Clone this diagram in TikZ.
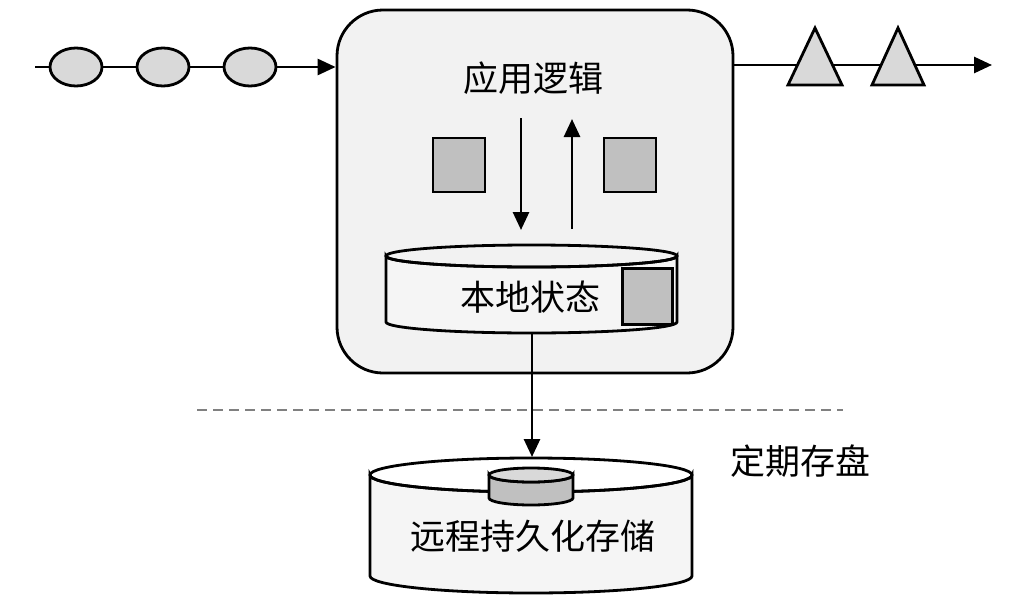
\documentclass[tikz,border=0pt]{standalone}
\usepackage{fontspec}
\newfontfamily\cjk{Noto Sans CJK SC}
\usetikzlibrary{arrows.meta,shapes.geometric}
\definecolor{boxfill}{HTML}{F2F2F2}
\definecolor{cylfill}{HTML}{F5F5F5}
\definecolor{tokfill}{HTML}{D9D9D9}
\definecolor{sqfill}{HTML}{C0C0C0}
\definecolor{dashc}{HTML}{808080}
\tikzset{
  thick line/.style={line width=2.8pt},
  arr/.style={thick line,-{Triangle[length=18pt,width=16pt]}},
  token/.style={draw,thick line,fill=tokfill,ellipse,minimum width=52pt,minimum height=38pt,inner sep=0pt},
  sq/.style={draw,thick line,fill=sqfill,minimum width=52pt,minimum height=54pt,inner sep=0pt},
  lbl/.style={font=\cjk\fontsize{35}{40}\selectfont,inner sep=0pt},
}
\begin{document}
\begin{tikzpicture}[x=1pt,y=-1pt]
\useasboundingbox (0,0) rectangle (1025,613);
% main box
\node[draw,thick line,fill=boxfill,rounded corners=46pt,minimum width=396pt,minimum height=363pt] (box) at (535,191.5) {};
\node[lbl] (app) at (533,78) {应用逻辑};
% input stream
\coordinate (in0) at (35,67);
\node[token] (e1) at (76,67) {};
\node[token] (e2) at (163,67) {};
\node[token] (e3) at (250,67) {};
\draw[thick line] (in0) -- (e1.west);
\draw[thick line] (e1.east) -- (e2.west);
\draw[thick line] (e2.east) -- (e3.west);
\draw[arr] (e3.east) -- (e3.east -| box.west);
% output stream
\coordinate (outS) at (733,65);
\coordinate (outE) at (992,65);
\draw[arr] (outS) -- (outE);
\coordinate (t1) at (815,28);
\coordinate (t2) at (898,28);
\draw[thick line,fill=tokfill,line join=miter] (t1) -- ++(-27,57) -- ++(54,0) -- cycle;
\draw[thick line,fill=tokfill,line join=miter] (t2) -- ++(-26,57) -- ++(52,0) -- cycle;
% squares and arrows
\node[sq] (sqL) at (459,165) {};
\node[sq] (sqR) at (630,165) {};
\coordinate (dA) at (521,118);
\coordinate (dB) at (521,230);
\coordinate (uA) at (572,229);
\coordinate (uB) at (572,119);
\draw[arr] (dA) -- (dB);
\draw[arr] (uA) -- (uB);
% local state cylinder
\filldraw[thick line,fill=cylfill] (386,256) -- (386,322) arc[start angle=180,end angle=0,x radius=145.5,y radius=11] -- (677,256) arc[start angle=0,end angle=180,x radius=145.5,y radius=11] -- cycle;
\draw[thick line] (531.5,256) ellipse[x radius=145.5,y radius=11];
\node[lbl] (local) at (530,297) {本地状态};
\node[draw,thick line,fill=sqfill,minimum width=50pt,minimum height=56pt,inner sep=0pt] (lsq) at (647.5,296.5) {};
\coordinate (lbot) at (532,333);
% dashed line
\coordinate (dl) at (197,410);
\coordinate (dr) at (843,410);
\draw[dashc,line width=1.5pt,dash pattern=on 10pt off 6pt] (dl) -- (dr);
\node[lbl] (period) at (800,461) {定期存盘};
% remote storage cylinder
\filldraw[thick line,fill=cylfill] (370,475) -- (370,576) arc[start angle=180,end angle=0,x radius=161,y radius=17] -- (692,475) arc[start angle=0,end angle=180,x radius=161,y radius=17] -- cycle;
\draw[thick line] (531,475) ellipse[x radius=161,y radius=17];
% small cylinder
\filldraw[thick line,fill=sqfill] (489,475) -- (489,498) arc[start angle=180,end angle=0,x radius=42,y radius=7] -- (573,475) arc[start angle=0,end angle=180,x radius=42,y radius=7] -- cycle;
\filldraw[thick line,fill=tokfill] (531,475) ellipse[x radius=42,y radius=7];
\node[lbl] (remote) at (533,536) {远程持久化存储};
\coordinate (rtop) at (532,457);
\draw[arr] (lbot) -- (rtop);
\end{tikzpicture}
\end{document}
